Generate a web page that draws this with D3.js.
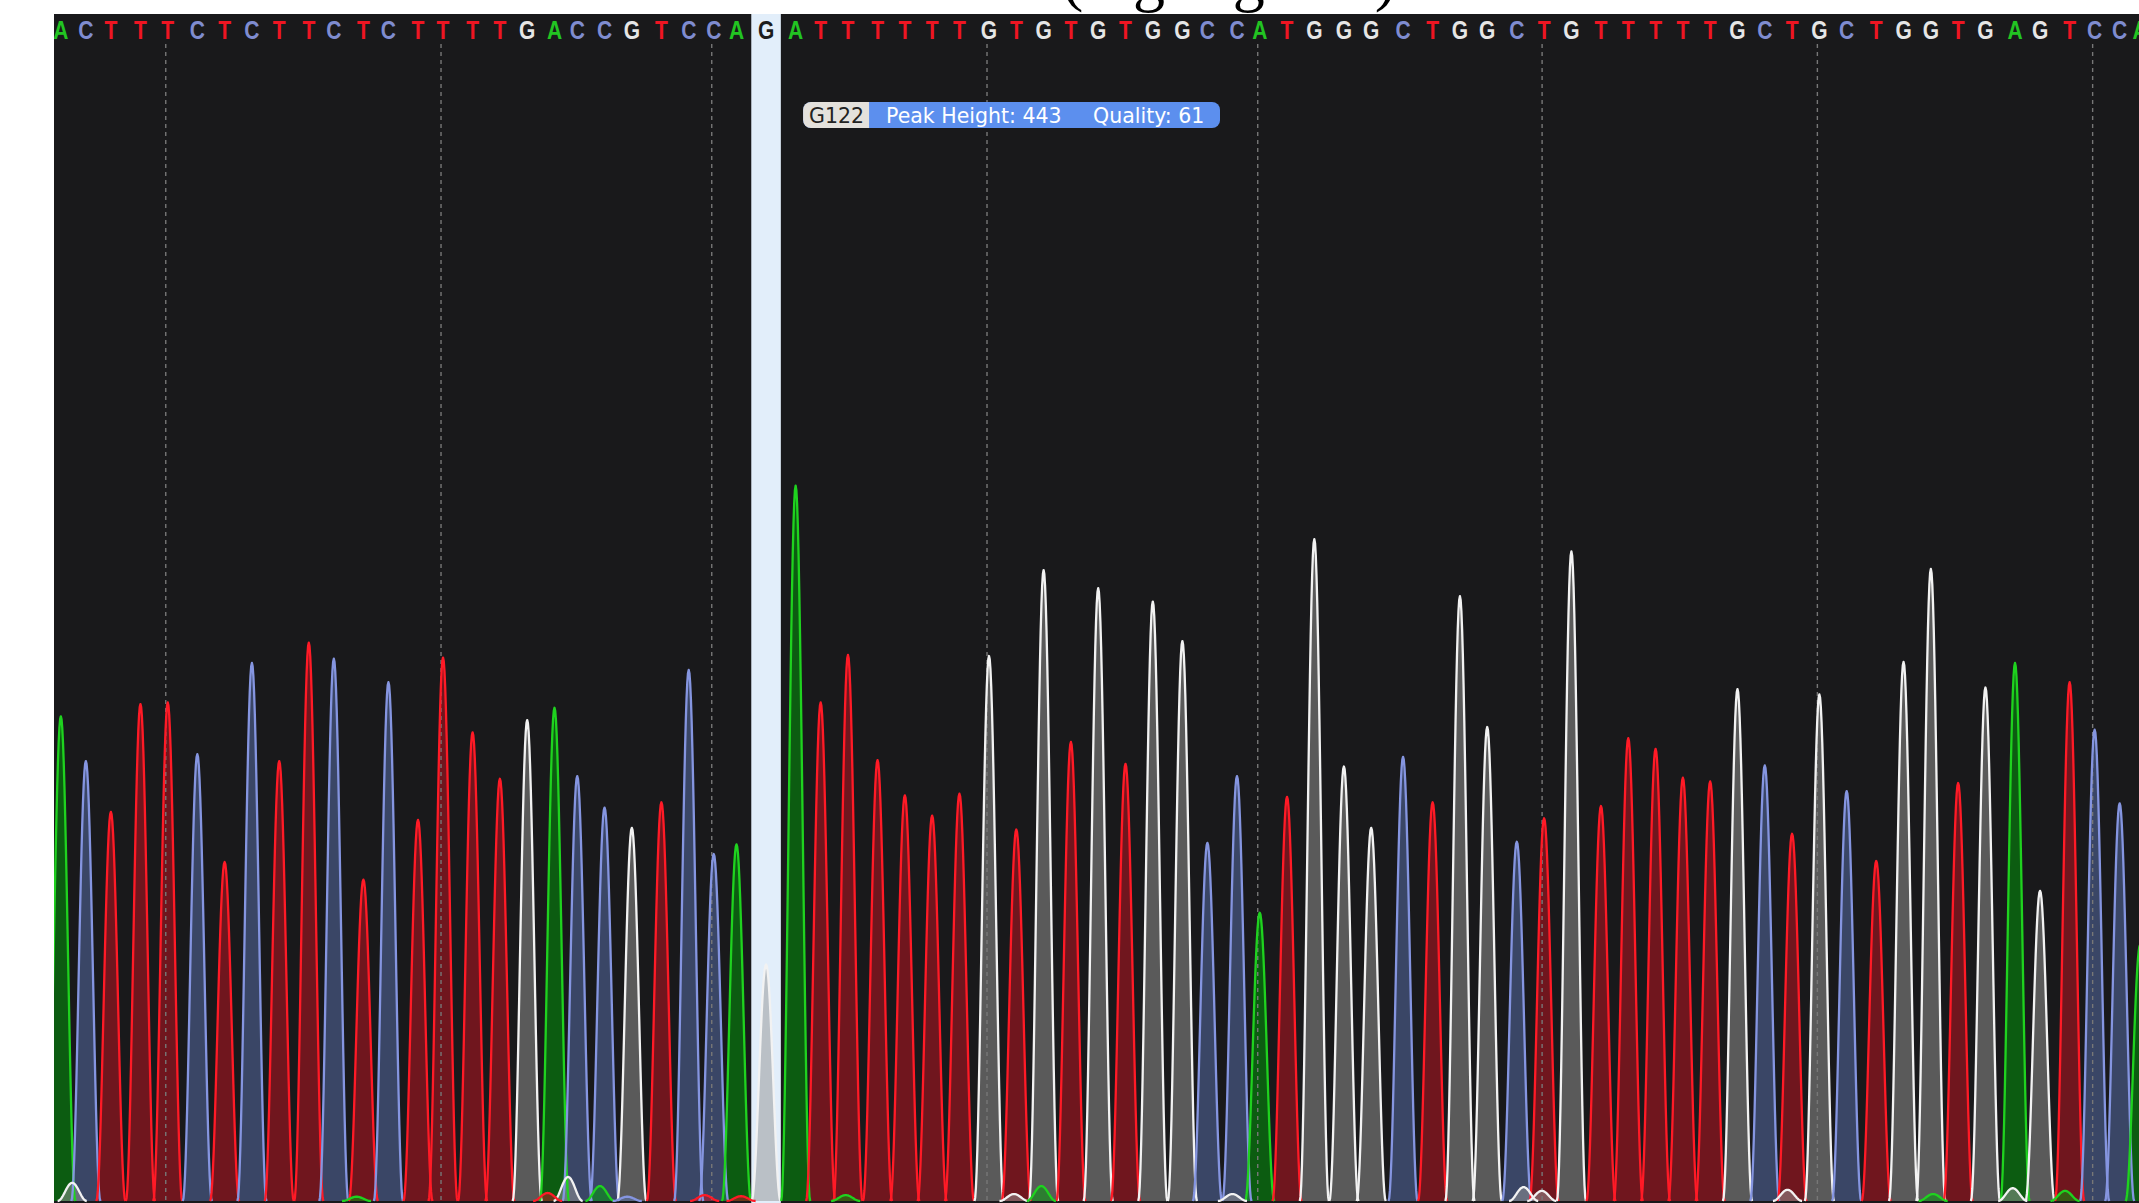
<!DOCTYPE html>
<html>
<head>
<meta charset="utf-8">
<script src="https://cdn.jsdelivr.net/npm/d3@7"></script>
<style>
  html, body { margin: 0; padding: 0; background: #ffffff; }
  svg { display: block; }
</style>
</head>
<body>
<svg id="chart" width="2139" height="1203"></svg>
<script>
// ---- Trace data -----------------------------------------------------------
// Base calls starting at base number 96
const firstBase = 96;
const baseCalls = "ACTTTCTCTTCTCTTTTGACCGTCCA" + "G" + "ATTTTTTGTGTGTGGCCATGGGCTGGCTGTTTTTGCTGCTGGTGAGTCCA";

// Peak apex location of each called base (scan index)
const peakLocations = [
  1193, 1204, 1215, 1228, 1240, 1253, 1265, 1277, 1289, 1302,
  1313, 1326, 1337, 1350, 1361, 1374, 1386, 1398, 1410, 1420,
  1432, 1444, 1457, 1469, 1480, 1490, 1503, 1516, 1527, 1539,
  1552, 1564, 1576, 1588, 1601, 1613, 1625, 1637, 1649, 1661,
  1673, 1686, 1697, 1710, 1720, 1732, 1744, 1757, 1769, 1783,
  1796, 1808, 1820, 1833, 1845, 1857, 1870, 1882, 1894, 1906,
  1918, 1930, 1942, 1954, 1966, 1978, 1991, 2003, 2015, 2027,
  2039, 2052, 2063, 2076, 2087, 2098, 2107
];

// Peak height (signal intensity) of each called base
const peakHeights = [
  908, 824, 729, 931, 934, 837, 635, 1008, 824, 1046,
  1016, 602, 972, 714, 1018, 878, 791, 901, 924, 796,
  737, 699, 747, 995, 650, 668, 443, 1340, 934, 1023,
  826, 760, 722, 763, 1021, 696, 1182, 860, 1148, 819,
  1123, 1049, 671, 796, 540, 757, 1240, 814, 699, 832,
  747, 1133, 888, 673, 717, 1217, 740, 867, 847, 793,
  786, 959, 816, 688, 949, 768, 637, 1010, 1184, 783,
  962, 1008, 581, 972, 883, 745, 480
];

// Small secondary (background) peaks
const minorChannels  = ["G","G","G","G","G","G","G","G","A","A","A","A","A","A","T","T","T","C"];
const minorLocations = [1198, 1416, 1612, 1708, 1836, 1844, 1952, 2051, 1430, 1624, 2016, 2074, 1323, 1538, 1407, 1476, 1492, 1442];
const minorHeights   = [34, 45, 13, 13, 26, 19, 21, 24, 28, 28, 13, 19, 8, 11, 15, 11, 9, 8];

// Selected base
const highlightedBase = 122;
const highlightedQuality = 61;

// ---- Styling --------------------------------------------------------------
const lineColor   = { A: "#1fd21f", C: "#8595e0", G: "#f2f2f2", T: "#ff1a26" };
const fillColor   = { A: "rgb(0,160,8)", C: "rgb(92,116,178)", G: "rgb(150,150,150)", T: "rgb(200,20,34)" };
const fillOpacity = { A: 0.5, C: 0.5, G: 0.52, T: 0.5 };
const letterColor = { A: "#22c422", C: "#7f8cd0", G: "#e6e6e6", T: "#ee1522" };

const width = 2139, height = 1203;
const plot = { left: 54, top: 14, right: 2139, bottom: 1203 };
const peakHalfWidth = 6.4;   // scans from apex to foot

const svg = d3.select("#chart");

const x = d3.scaleLinear().domain([1190, 2106.5]).range([plot.left, plot.right]);
const y = d3.scaleLinear().domain([0, 2220]).range([1201, 16]);

// Caption running along the top edge
svg.append("text")
  .attr("x", 1062)
  .attr("y", -1)
  .attr("font-family", "'Liberation Serif', 'Times New Roman', serif")
  .attr("font-size", 64)
  .attr("fill", "#000")
  .text("(highlighted)");

// Plot clip
svg.append("defs").append("clipPath").attr("id", "plotClip")
  .append("rect")
  .attr("x", plot.left).attr("y", plot.top)
  .attr("width", plot.right - plot.left).attr("height", plot.bottom - plot.top);

const g = svg.append("g").attr("clip-path", "url(#plotClip)");

g.append("rect")
  .attr("x", plot.left).attr("y", plot.top)
  .attr("width", plot.right - plot.left).attr("height", plot.bottom - plot.top)
  .attr("fill", "#19191b");

// Base records
const bases = baseCalls.split("").map((b, i) => ({
  base: b,
  num: firstBase + i,
  loc: peakLocations[i],
  h: peakHeights[i]
}));
const minors = minorChannels.map((c, i) => ({ base: c, loc: minorLocations[i], h: minorHeights[i] }));
const allPeaks = bases.concat(minors);

// Selected-base column, running half way to each neighbour
const hi = bases.findIndex(d => d.num === highlightedBase);
const colLeft  = x((bases[hi - 1].loc + bases[hi].loc) / 2);
const colRight = x((bases[hi].loc + bases[hi + 1].loc) / 2);
g.append("rect")
  .attr("x", colLeft).attr("y", plot.top)
  .attr("width", colRight - colLeft).attr("height", plot.bottom - plot.top)
  .attr("fill", "#e2eefa");

// Peak outline: raised-cosine profile over the peak's footprint
const profile = d3.range(-1, 1.0001, 0.05);
function peakPoints(d) {
  return profile.map(t => [d.loc + t * peakHalfWidth, d.h * (1 + Math.cos(Math.PI * t)) / 2]);
}
const area = d3.area().x(p => x(p[0])).y0(y(0)).y1(p => y(p[1]));
const line = d3.line().x(p => x(p[0])).y(p => y(p[1]));

// Fills
g.append("g").selectAll("path")
  .data(allPeaks)
  .join("path")
  .attr("d", d => area(peakPoints(d)))
  .attr("fill", d => fillColor[d.base])
  .attr("fill-opacity", d => fillOpacity[d.base]);

// Dashed guides every ten bases
g.append("g").selectAll("line")
  .data(bases.filter(d => d.num % 10 === 0))
  .join("line")
  .attr("x1", d => x(d.loc) - 2).attr("x2", d => x(d.loc) - 2)
  .attr("y1", 44).attr("y2", plot.bottom)
  .attr("stroke", "#777777")
  .attr("stroke-width", 1.4)
  .attr("stroke-dasharray", "4,4");

// Trace lines
g.append("g").selectAll("path")
  .data(allPeaks)
  .join("path")
  .attr("d", d => line(peakPoints(d)))
  .attr("fill", "none")
  .attr("stroke", d => lineColor[d.base])
  .attr("stroke-width", 2.3)
  .attr("stroke-linejoin", "round");

// Base-call letters
g.append("g").selectAll("text")
  .data(bases)
  .join("text")
  .attr("transform", d => `translate(${x(d.loc)},39) scale(0.84,1)`)
  .attr("text-anchor", "middle")
  .attr("font-family", "'Liberation Sans', Arial, sans-serif")
  .attr("font-weight", "bold")
  .attr("font-size", 25)
  .attr("fill", d => d.num === highlightedBase ? "#1c1c1c" : letterColor[d.base])
  .text(d => d.base);

// Info pill for the selected base
const sel = bases[hi];
const pillX = x(sel.loc) + 37, pillY = 102, pillW = 417, pillH = 26, tagW = 66;
const pill = svg.append("g");
svg.select("defs").append("clipPath").attr("id", "pillClip")
  .append("rect")
  .attr("x", pillX).attr("y", pillY)
  .attr("width", pillW).attr("height", pillH)
  .attr("rx", 8).attr("ry", 8);
const pillBody = pill.append("g").attr("clip-path", "url(#pillClip)");
pillBody.append("rect")
  .attr("x", pillX).attr("y", pillY).attr("width", pillW).attr("height", pillH)
  .attr("fill", "#5c8fee");
pillBody.append("rect")
  .attr("x", pillX).attr("y", pillY).attr("width", tagW).attr("height", pillH)
  .attr("fill", "#e4e1dc");

const pillFont = "'DejaVu Sans', Verdana, sans-serif";
pill.append("text")
  .attr("x", pillX + 6).attr("y", pillY + 20.5)
  .attr("font-family", pillFont).attr("font-size", 20.5)
  .attr("fill", "#222")
  .text(sel.base + sel.num);
pill.append("text")
  .attr("x", pillX + 83).attr("y", pillY + 20.5)
  .attr("font-family", pillFont).attr("font-size", 20.5)
  .attr("fill", "#ffffff")
  .text("Peak Height: " + sel.h);
pill.append("text")
  .attr("x", pillX + 290).attr("y", pillY + 20.5)
  .attr("font-family", pillFont).attr("font-size", 20.5)
  .attr("fill", "#ffffff")
  .text("Quality: " + highlightedQuality);
</script>
</body>
</html>
